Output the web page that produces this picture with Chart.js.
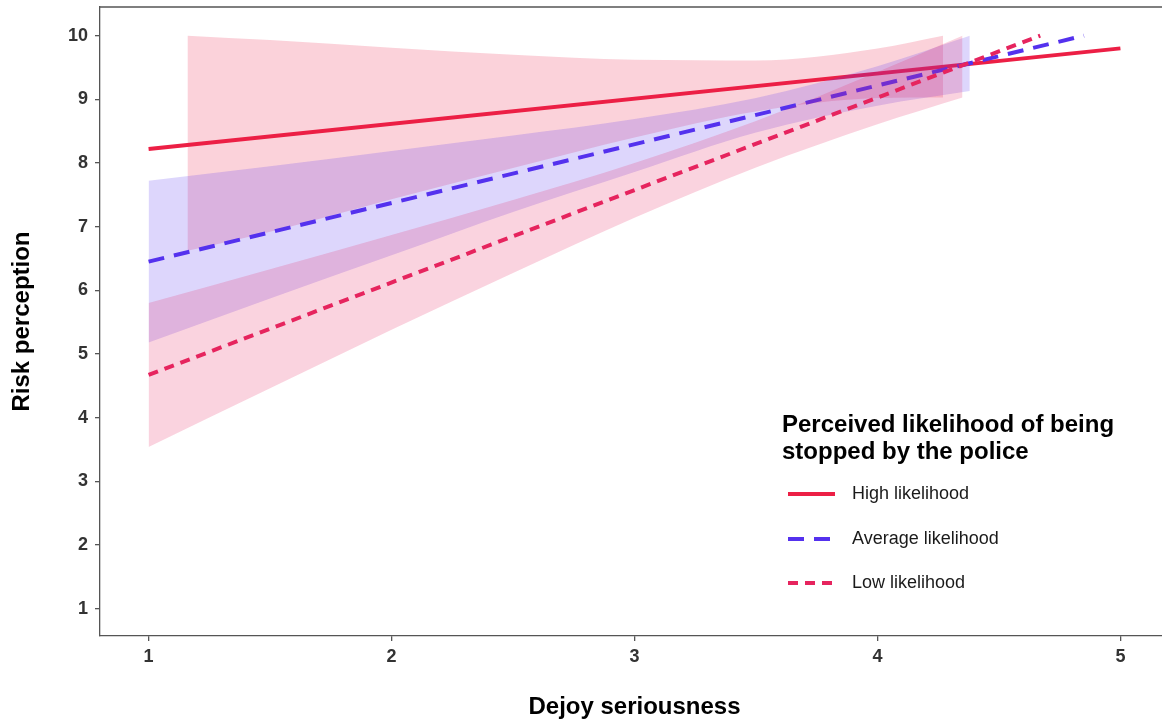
<!DOCTYPE html>
<html lang="en">
<head>
    <meta charset="UTF-8">
    <title>Risk perception by Dejoy seriousness</title>
    <script src="https://cdn.jsdelivr.net/npm/chart.js"></script>
    <style>
        body {
            margin: 0;
            background-color: #ffffff;
            overflow: hidden;
        }
        #wrap {
            width: 1170px;
            height: 722px;
        }
    </style>
</head>
<body>
    <div id="wrap">
        <canvas id="grafico" width="1170" height="722"></canvas>
    </div>

    <script>
        // tick labels
        const xTicks = [1, 2, 3, 4, 5];
        const yTicks = [1, 2, 3, 4, 5, 6, 7, 8, 9, 10];

        // series names
        const seriesNames = ['High likelihood', 'Average likelihood', 'Low likelihood'];

        // fitted lines
        const highLineX = [1, 5];
        const highLineY = [8.22, 9.80];
        const avgLineX = [1, 4.85];
        const avgLineY = [6.45, 10.0];
        const lowLineX = [1, 4.67];
        const lowLineY = [4.67, 10.0];

        // confidence bands (clipped at 10 like the original)
        const highBandX = [1.16, 1.5, 2, 2.5, 3, 3.5, 4, 4.27];
        const highUpper = [10.0, 9.93, 9.81, 9.70, 9.62, 9.61, 9.80, 10.0];
        const highLower = [6.62, 6.92, 7.43, 7.92, 8.40, 8.81, 9.02, 9.03];

        const avgBandX = [1, 1.5, 2, 2.5, 3, 3.5, 4, 4.38];
        const avgUpper = [7.72, 7.95, 8.19, 8.43, 8.69, 9.02, 9.52, 10.0];
        const avgLower = [5.18, 5.87, 6.55, 7.23, 7.86, 8.48, 8.90, 9.13];

        const lowBandX = [1, 1.5, 2, 2.5, 3, 3.5, 4, 4.35];
        const lowUpper = [5.80, 6.33, 6.87, 7.42, 8.00, 8.66, 9.43, 10.0];
        const lowLower = [3.54, 4.46, 5.38, 6.27, 7.14, 7.93, 8.61, 9.03];

        const colHigh = '#EC1F45';
        const colAvg = '#5431EE';
        const colLow = '#E6245E';
        const dashAvg = [16, 10];
        const dashLow = [10, 7];

        Chart.defaults.font.family = '"Liberation Sans", Arial, sans-serif';

        function pts(xs, ys) {
            return xs.map((x, i) => ({ x: x, y: ys[i] }));
        }

        function fade(hex, a) {
            const n = parseInt(hex.slice(1), 16);
            return 'rgba(' + (n >> 16) + ',' + ((n >> 8) & 255) + ',' + (n & 255) + ',' + a + ')';
        }

        function band(xs, ys, color, target, order) {
            return {
                data: pts(xs, ys),
                borderWidth: 0,
                borderColor: 'transparent',
                backgroundColor: color ? fade(color, 0.2) : 'transparent',
                fill: target === null ? false : target,
                pointRadius: 0,
                cubicInterpolationMode: 'monotone',
                order: order
            };
        }

        function line(xs, ys, color, dash, order) {
            return {
                data: pts(xs, ys),
                borderColor: color,
                borderWidth: 4,
                borderDash: dash,
                borderCapStyle: 'butt',
                fill: false,
                pointRadius: 0,
                order: order
            };
        }

        // the legend box inside the panel and the top border
        const extras = {
            id: 'extras',
            afterDraw(chart) {
                const ctx = chart.ctx;
                const a = chart.chartArea;
                ctx.save();
                ctx.strokeStyle = '#555';
                ctx.lineWidth = 1.3;
                ctx.beginPath();
                ctx.moveTo(a.left, a.top);
                ctx.lineTo(a.right, a.top);
                ctx.stroke();

                ctx.fillStyle = '#000';
                ctx.textBaseline = 'middle';
                ctx.textAlign = 'left';
                ctx.font = 'bold 24px "Liberation Sans", Arial, sans-serif';
                ctx.fillText('Perceived likelihood of being', 782, 425);
                ctx.fillText('stopped by the police', 782, 452);

                const cols = [colHigh, colAvg, colLow];
                const dashes = [[], dashAvg, dashLow];
                const ys = [494, 539, 583];
                ctx.font = '18px "Liberation Sans", Arial, sans-serif';
                for (let i = 0; i < 3; i++) {
                    ctx.strokeStyle = cols[i];
                    ctx.lineWidth = 4;
                    ctx.setLineDash(dashes[i]);
                    ctx.beginPath();
                    ctx.moveTo(788, ys[i]);
                    ctx.lineTo(835, ys[i]);
                    ctx.stroke();
                    ctx.fillStyle = '#1a1a1a';
                    ctx.fillText(seriesNames[i], 852, ys[i]);
                }
                ctx.restore();
            }
        };

        const ctx = document.getElementById('grafico').getContext('2d');

        new Chart(ctx, {
            type: 'line',
            data: {
                datasets: [
                    band(highBandX, highUpper, colHigh, 1, 9),
                    band(highBandX, highLower, null, null, 9),
                    line(highLineX, highLineY, colHigh, [], 8),
                    band(avgBandX, avgUpper, colAvg, 4, 7),
                    band(avgBandX, avgLower, null, null, 7),
                    line(avgLineX, avgLineY, colAvg, dashAvg, 6),
                    band(lowBandX, lowUpper, colLow, 7, 5),
                    band(lowBandX, lowLower, null, null, 5),
                    line(lowLineX, lowLineY, colLow, dashLow, 4)
                ]
            },
            options: {
                responsive: false,
                animation: false,
                events: [],
                layout: { padding: { top: 7, right: 1 } },
                plugins: {
                    legend: { display: false },
                    tooltip: { enabled: false },
                    filler: { drawTime: 'beforeDatasetDraw' }
                },
                scales: {
                    x: {
                        type: 'linear',
                        min: 0.8,
                        max: 5.2,
                        afterBuildTicks: s => { s.ticks = xTicks.map(v => ({ value: v })); },
                        afterFit: s => { s.height = 86; s.paddingLeft = 0; s.paddingRight = 0; },
                        grid: { drawOnChartArea: false, tickLength: 5, color: '#555', lineWidth: 1.3 },
                        border: { display: true, color: '#555', width: 1.3 },
                        ticks: {
                            color: '#333',
                            font: { size: 18, weight: 'bold' },
                            padding: 5,
                            maxRotation: 0
                        },
                        title: {
                            display: true,
                            text: 'Dejoy seriousness',
                            color: '#000',
                            font: { size: 24, weight: 'bold' },
                            padding: { top: 0, bottom: 0 }
                        }
                    },
                    y: {
                        min: 0.57,
                        max: 10.45,
                        afterBuildTicks: s => { s.ticks = yTicks.map(v => ({ value: v })); },
                        afterFit: s => { s.width = 100; s.paddingTop = 0; s.paddingBottom = 0; },
                        grid: { drawOnChartArea: false, tickLength: 5, color: '#555', lineWidth: 1.3 },
                        border: { display: true, color: '#555', width: 1.3 },
                        ticks: {
                            color: '#333',
                            font: { size: 18, weight: 'bold' },
                            padding: 7
                        },
                        title: {
                            display: true,
                            text: 'Risk perception',
                            color: '#000',
                            font: { size: 24, weight: 'bold' },
                            padding: { top: 8, bottom: 0 }
                        }
                    }
                }
            },
            plugins: [extras]
        });
    </script>
</body>
</html>
